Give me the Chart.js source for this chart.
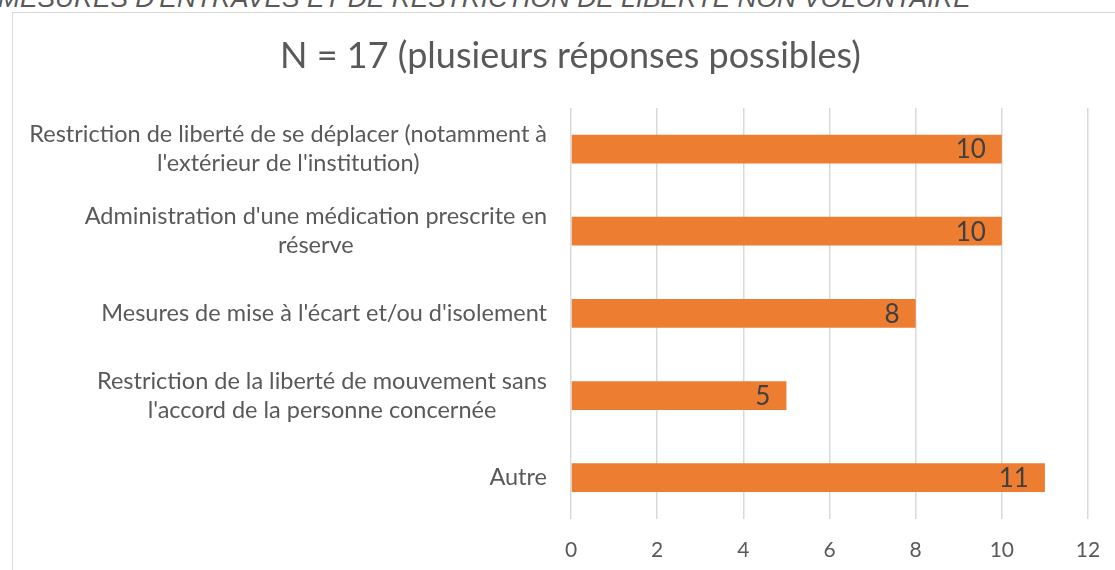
<!DOCTYPE html>
<html>
<head>
<meta charset="utf-8">
<script src="https://cdn.jsdelivr.net/npm/chart.js@4.4.0/dist/chart.umd.min.js"></script>
<style>
  body { margin: 0; background: #fff; width: 1115px; height: 570px; overflow: hidden; position: relative; }
  #heading {
    position: absolute; left: -2px; top: -15px; white-space: nowrap;
    font: italic 26.3px "Liberation Sans", Arial, sans-serif; color: #595959; line-height: 1;
  }
  #box {
    position: absolute; left: 12px; top: 12px; width: 1118px; height: 600px;
    border: 1.5px solid #d9d9d9; box-sizing: border-box;
  }
  #chart { position: absolute; left: 0; top: 0; }
</style>
</head>
<body>
<div id="heading">MESURES D'ENTRAVES ET DE RESTRICTION DE LIBERTE NON VOLONTAIRE</div>
<div id="box"><canvas id="chart" width="1115" height="576"></canvas></div>
<script>
const categories = [
  ['Restriction de liberté de se déplacer (notamment à', "l'extérieur de l'institution)"],
  ["Administration d'une médication prescrite en", 'réserve'],
  ["Mesures de mise à l'écart et/ou d'isolement"],
  ['Restriction de la liberté de mouvement sans', "l'accord de la personne concernée"],
  ['Autre']
];
const counts = [10, 10, 8, 5, 11];
const xMin = 0, xMax = 12, xStep = 2;
const titleText = 'N = 17 (plusieurs réponses possibles)';

const FONT = 'Lato, "Open Sans", sans-serif';
const GREY = '#595959';

// y labels: each block right-aligned, its lines centred on each other
const categoryLabels = {
  id: 'categoryLabels',
  afterDraw(chart) {
    const { ctx, chartArea } = chart;
    const y = chart.scales.y;
    const lineH = 29;
    ctx.save();
    ctx.font = '23.5px ' + FONT;
    ctx.fillStyle = GREY;
    ctx.textAlign = 'center';
    ctx.textBaseline = 'middle';
    chart.data.labels.forEach((lab, i) => {
      const lines = [].concat(lab);
      const w = Math.max(...lines.map(l => ctx.measureText(l).width));
      const cx = chartArea.left - 24 - w / 2;
      const cy = y.getPixelForTick(i);
      lines.forEach((l, j) => ctx.fillText(l, cx, cy + (j - (lines.length - 1) / 2) * lineH));
    });
    ctx.restore();
  }
};

// value at the inner end of each bar
const valueLabels = {
  id: 'valueLabels',
  afterDatasetsDraw(chart) {
    const { ctx } = chart;
    const ds = chart.data.datasets[0];
    ctx.save();
    ctx.font = '26px ' + FONT;
    ctx.fillStyle = '#404040';
    ctx.textAlign = 'right';
    ctx.textBaseline = 'middle';
    chart.getDatasetMeta(0).data.forEach((bar, i) => {
      ctx.fillText(String(ds.data[i]), bar.x - 16, bar.y + 1);
    });
    ctx.restore();
  }
};

new Chart(document.getElementById('chart'), {
  type: 'bar',
  data: {
    labels: categories,
    datasets: [{
      data: counts,
      backgroundColor: '#ED7D31',
      borderWidth: 0,
      categoryPercentage: 1,
      barPercentage: 0.35
    }]
  },
  options: {
    indexAxis: 'y',
    responsive: false,
    animation: false,
    // equal side padding keeps the title centred on the whole box
    layout: { padding: { left: 40, right: 40, top: 0, bottom: 7 } },
    plugins: {
      legend: { display: false },
      tooltip: { enabled: false },
      title: {
        display: true,
        text: titleText,
        color: GREY,
        font: { family: FONT, size: 36, weight: 'normal' },
        padding: { top: 22, bottom: 29.8 }
      }
    },
    scales: {
      x: {
        min: xMin,
        max: xMax,
        ticks: { stepSize: xStep, color: GREY, font: { family: FONT, size: 21 }, padding: 19 },
        grid: { color: '#d9d9d9', lineWidth: 1.5, drawTicks: false },
        border: { display: false }
      },
      y: {
        ticks: { display: false },
        grid: { display: false },
        border: { display: false },
        afterFit(scale) { scale.width = 518; }
      }
    }
  },
  plugins: [categoryLabels, valueLabels]
});
</script>
</body>
</html>
